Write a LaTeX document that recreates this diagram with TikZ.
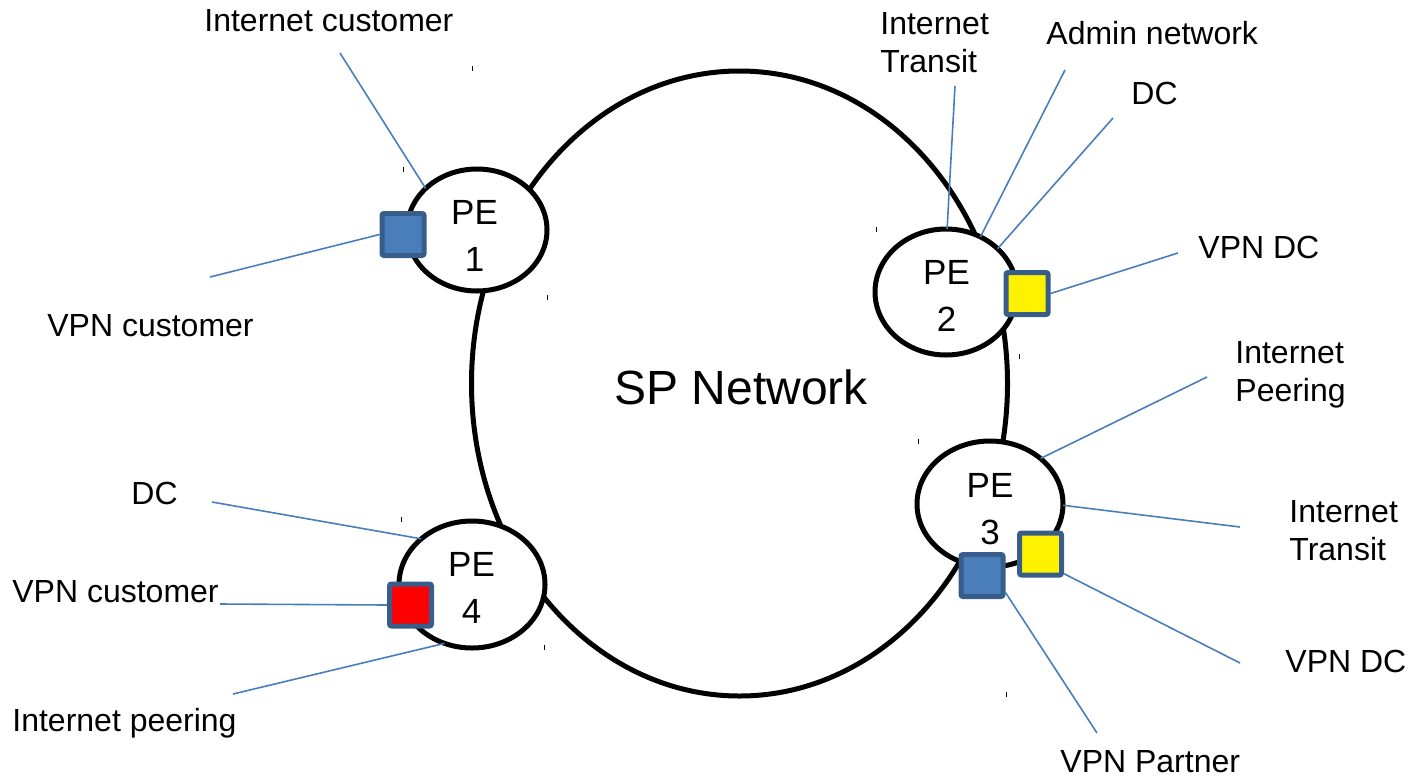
\documentclass[tikz,border=0pt]{standalone}
\usepackage{fontspec}
\setmainfont{Liberation Sans}
\usetikzlibrary{shapes.geometric}
\definecolor{linkblue}{HTML}{4A7EBB}
\definecolor{boxblue}{HTML}{4A7EBB}
\definecolor{boxedge}{HTML}{385D8A}
\begin{document}
\begin{tikzpicture}[x=0.5pt,y=-0.5pt,
  ring/.style={ellipse, draw=black, line width=2.5pt, inner sep=0pt, outer sep=0pt},
  pe/.style={ring, fill=white},
  petext/.style={font=\fontsize{17.5}{23.5}\selectfont, align=center, anchor=north, inner sep=0pt},
  lbl/.style={font=\fontsize{16}{19}\selectfont, inner sep=0pt, anchor=base west},
  mlbl/.style={font=\fontsize{16}{19}\selectfont, inner sep=0pt, anchor=north west, align=left},
  link/.style={draw=linkblue, line width=0.8pt},
  port/.style={draw=boxedge, line width=2.5pt, rounded corners=1pt, minimum size=21pt, inner sep=0pt},
  tick/.style={draw=black, line width=0.5pt}]
\useasboundingbox (0,0) rectangle (1408,777);

% SP network ring
\node[ring, minimum width=268pt, minimum height=312.5pt] (sp) at (739.5,383.5) {};
\node[font=\fontsize{24}{28}\selectfont, inner sep=0pt, anchor=base west] (sptxt) at (614,404) {SP Network};

% PE routers
\node[pe, minimum width=70pt, minimum height=61pt] (pe1) at (477,230) {};
\node[pe, minimum width=71pt, minimum height=63pt] (pe2) at (946,292) {};
\node[pe, minimum width=73pt, minimum height=63pt] (pe3) at (990,504) {};
\node[pe, minimum width=73pt, minimum height=63.5pt] (pe4) at (472,584.5) {};
\node[petext] (pe1t) at (474.5,200) {PE\\1};
\node[petext] (pe2t) at (946.5,260) {PE\\2};
\node[petext] (pe3t) at (990,473) {PE\\3};
\node[petext] (pe4t) at (471.5,552) {PE\\4};

% labels
\node[lbl] (l1a) at (204,31.5) {Internet customer};
\node[lbl] (l1b) at (47,336.5) {VPN customer};
\node[mlbl] (l2a) at (880,12.5) {Internet\\Transit};
\node[lbl] (l2b) at (1046,44.5) {Admin network};
\node[lbl] (l2c) at (1131,104.5) {DC};
\node[lbl] (l2d) at (1198,258.5) {VPN DC};
\node[mlbl] (l3a) at (1235,341.5) {Internet\\Peering};
\node[mlbl] (l3b) at (1289,500.5) {Internet\\Transit};
\node[lbl] (l3c) at (1285,672.5) {VPN DC};
\node[lbl] (l3d) at (1060,772) {VPN Partner};
\node[lbl] (l4a) at (131,504.5) {DC};
\node[lbl] (l4b) at (12,602.5) {VPN customer};
\node[lbl] (l4c) at (12,731.5) {Internet peering};

% free ends of the connectors
\coordinate (c1a) at (340,53);
\coordinate (c1b) at (210,277);
\coordinate (c2a) at (955,86);
\coordinate (c2b) at (1065,70);
\coordinate (c2c) at (1113,118);
\coordinate (c2d) at (1178,253);
\coordinate (c3a) at (1207,377);
\coordinate (c3b) at (1240,527);
\coordinate (c3c) at (1240,663);
\coordinate (c3d) at (1097,733);
\coordinate (c4a) at (212,502);
\coordinate (c4b) at (220,604);
\coordinate (c4c) at (233,694);

% ports
\node[port, fill=boxblue] (p1) at (403,234.5) {};
\node[port, fill=yellow] (p2) at (1027,293.5) {};
\node[port, fill=boxblue] (p3b) at (982,575.5) {};
\node[port, fill=yellow] (p3y) at (1040.5,554) {};
\node[port, fill=red] (p4) at (410.5,605) {};

% connectors
\draw[link] (c1a) -- (pe1.141.5);
\draw[link] (c1b) -- (p1.west);
\draw[link] (c2a) -- (pe2.89);
\draw[link] (c2b) -- (pe2.58.6);
\draw[link] (c2c) -- (pe2.40);
\draw[link] (c2d) -- (p2.east);
\draw[link] (c3a) -- (pe3.42);
\draw[link] (c3b) -- (pe3.-1.6);
\draw[link] (c3c) -- (p3y.-40);
\draw[link] (c3d) -- (p3b.-36);
\draw[link] (c4a) -- (pe4.138.8);
\draw[link] (c4b) -- (p4.west);
\draw[link] (c4c) -- (pe4.245);

% small marks
\foreach \tx/\ty in {472/66, 403/167, 547/295, 876/227, 1019/354, 918/439, 401/517, 544/645, 1006/692}
  \draw[tick] (\tx,\ty) -- ++(0,5);
\end{tikzpicture}
\end{document}
